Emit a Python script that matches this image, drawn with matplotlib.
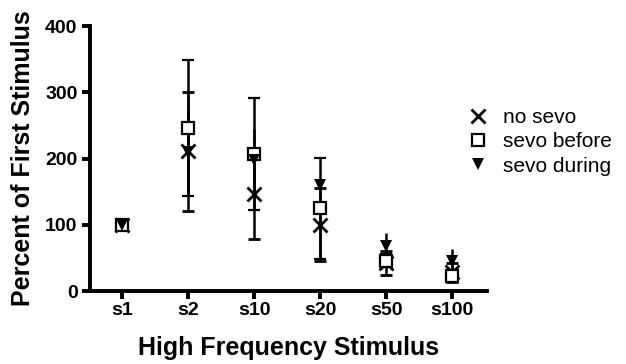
import matplotlib
matplotlib.use('Agg')
import matplotlib.pyplot as plt
import numpy as np

plt.rcParams['font.family'] = ['Liberation Sans', 'DejaVu Sans']

# stimulus categories and group means / errors (percent of first stimulus)
stimuli = ['s1', 's2', 's10', 's20', 's50', 's100']
no_sevo = [100, 211, 147, 100, 42, 28]
no_sevo_err = [0, 90, 69, 55, 18, 14]
sevo_before = [100, 246, 207, 125, 46, 22]
sevo_before_err = [0, 102, 84, 76, 10, 8]
sevo_during = [100, 210, 198, 160, 68, 45]
sevo_during_err = [0, 62, 47, 5, 20, 18]

x = np.arange(len(stimuli))

fig = plt.figure(figsize=(6.26, 3.64), dpi=100)
ax = fig.add_axes([0.1438, 0.2005, 0.634, 0.728])

common = dict(color='black', ecolor='black', elinewidth=1.8, capsize=4.3,
              capthick=1.8, linestyle='none')
ax.errorbar(x, no_sevo, yerr=no_sevo_err, marker='x', markersize=10,
            markeredgewidth=2.0, label='no sevo', **common)
ax.errorbar(x, sevo_before, yerr=sevo_before_err, marker='s', markersize=8,
            markerfacecolor='white', markeredgewidth=1.6,
            label='sevo before', **common)
ax.errorbar(x, sevo_during, yerr=sevo_during_err, marker='v', markersize=8,
            markeredgewidth=0, label='sevo during', **common)

ax.set_xlim(-0.49, 5.53)
ax.set_ylim(0, 400)
ax.set_yticks([0, 100, 200, 300, 400])
ax.set_xticks(x)
ax.set_xticklabels(stimuli)
for side in ['top', 'right']:
    ax.spines[side].set_visible(False)
for side in ['left', 'bottom']:
    ax.spines[side].set_linewidth(2.8)
ax.tick_params(width=2.8, length=6, labelsize=14)
ax.tick_params(axis='x', pad=2)
ax.tick_params(axis='y', pad=3)
for lab in ax.get_xticklabels() + ax.get_yticklabels():
    lab.set_fontweight('bold')

ax.set_xlabel('High Frequency Stimulus', fontsize=18, fontweight='bold',
              labelpad=12)
ax.set_ylabel('Percent of First Stimulus', fontsize=18, fontweight='bold',
              labelpad=7)

handles, labels = ax.get_legend_handles_labels()
handles = [h[0] for h in handles]
ax.legend(handles, labels, loc='center left', bbox_to_anchor=(0.747, 0.61),
          bbox_transform=fig.transFigure, frameon=False, fontsize=15,
          handletextpad=0.7, handlelength=1.0, labelspacing=0.25,
          borderpad=0, borderaxespad=0)

plt.savefig('out.png', dpi=100)
